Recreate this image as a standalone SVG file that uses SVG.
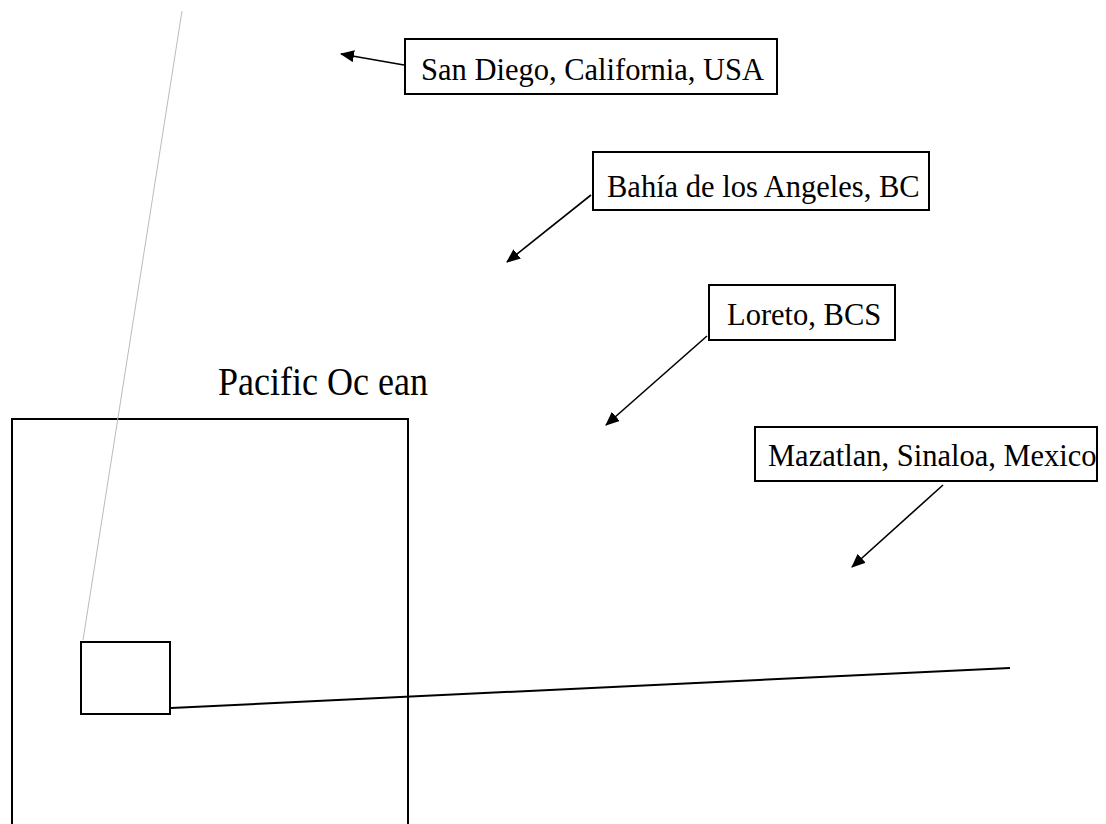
<svg xmlns="http://www.w3.org/2000/svg" width="1106" height="824" viewBox="0 0 1106 824">
<style>
.box{fill:#fff;stroke:#000;stroke-width:2}
.lbl{font-family:"Liberation Serif","Times New Roman",serif;font-size:30.5px;fill:#000}
.arr{stroke:#000;stroke-width:1.6;fill:none;marker-end:url(#ah)}
</style>
<defs>
<marker id="ah" markerWidth="14" markerHeight="12" refX="13" refY="6" orient="auto" markerUnits="userSpaceOnUse">
<path d="M0,0 L14,6 L0,12 Z" fill="#000"/>
</marker>
</defs>
<rect width="1106" height="824" fill="#fff"/>
<g id="ocean-frame">
<rect x="12" y="419" width="396" height="420" fill="none" stroke="#000" stroke-width="2"/>
</g>
<g id="ocean-label">
<text x="218" y="395" font-family="Liberation Serif, Times New Roman, serif" font-size="40" textLength="210" lengthAdjust="spacingAndGlyphs">Pacific Oc ean</text>
</g>
<g id="inset">
<rect x="81" y="642" width="89" height="72" class="box" fill="none"/>
</g>
<g id="connectors">
<line x1="83" y1="640" x2="182" y2="11" stroke="#bbb" stroke-width="1"/>
<line x1="171" y1="708" x2="1010" y2="668" stroke="#000" stroke-width="2"/>
<line x1="404" y1="65" x2="341" y2="54" class="arr"/>
<line x1="591" y1="195" x2="507" y2="262" class="arr"/>
<line x1="707" y1="336" x2="606" y2="425" class="arr"/>
<line x1="943" y1="485" x2="852" y2="567" class="arr" stroke-width="2.4"/>
</g>
<g id="san-diego">
<rect x="405" y="39" width="372" height="55" class="box"/>
<text x="421" y="80" class="lbl">San Diego, California, USA</text>
</g>
<g id="bahia">
<rect x="593" y="152" width="336" height="58" class="box"/>
<text x="607" y="197" class="lbl">Bahía de los Angeles, BC</text>
</g>
<g id="loreto">
<rect x="709" y="285" width="186" height="55" class="box"/>
<text x="727" y="325" class="lbl">Loreto, BCS</text>
</g>
<g id="mazatlan">
<rect x="755" y="427" width="342" height="54" class="box"/>
<text x="768" y="466" class="lbl">Mazatlan, Sinaloa, Mexico</text>
</g>
</svg>
